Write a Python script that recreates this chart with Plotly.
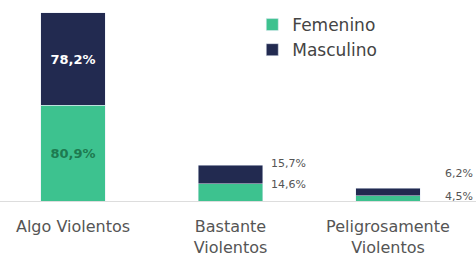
import plotly.graph_objects as go

categories = ["Algo Violentos", "Bastante<br>Violentos", "Peligrosamente<br>Violentos"]
femenino = [80.9, 14.6, 4.5]
masculino = [78.2, 15.7, 6.2]

GREEN = "#3dc28f"
NAVY = "#222a50"
FONT = "DejaVu Sans"

def fmt(v):
    return f"{v:.1f}%".replace(".", ",")

x = list(range(len(categories)))

fig = go.Figure()
fig.add_trace(go.Bar(
    x=x, y=femenino, name="Femenino", marker_color=GREEN, width=0.41,
    text=["<b>" + fmt(femenino[0]) + "</b>", "", ""], textposition="inside",
    insidetextanchor="middle", textangle=0,
    textfont=dict(color="#1d7a50", size=13, family=FONT), hoverinfo="skip",
))
fig.add_trace(go.Bar(
    x=x, y=masculino, name="Masculino", marker_color=NAVY, width=0.41,
    text=["<b>" + fmt(masculino[0]) + "</b>", "", ""], textposition="inside",
    insidetextanchor="middle", textangle=0,
    textfont=dict(color="white", size=13, family=FONT), hoverinfo="skip",
))

# outside labels for the small bars
x_shifts = [0, 39, 55]
male_yshift = [0, 2, 15]
for i in (1, 2):
    fig.add_annotation(x=i, y=femenino[i] + masculino[i], text=fmt(masculino[i]),
                       showarrow=False, xanchor="left", yanchor="middle",
                       xshift=x_shifts[i], yshift=male_yshift[i],
                       font=dict(size=11, color="#555555", family=FONT))
    fig.add_annotation(x=i, y=femenino[i], text=fmt(femenino[i]),
                       showarrow=False, xanchor="left", yanchor="middle",
                       xshift=x_shifts[i], yshift=-1,
                       font=dict(size=11, color="#555555", family=FONT))

fig.update_layout(
    width=476, height=260,
    margin=dict(l=0, r=0, t=0, b=59),
    barmode="stack",
    plot_bgcolor="white", paper_bgcolor="white",
    font=dict(family=FONT, color="#444444"),
    showlegend=True,
    legend=dict(x=0.53, y=0.965, xanchor="left", yanchor="top",
                traceorder="normal", font=dict(size=17, color="#444444"),
                itemwidth=30, tracegroupgap=0, bgcolor="rgba(0,0,0,0)"),
    xaxis=dict(tickmode="array", tickvals=x, ticktext=categories,
               range=[-0.4635, 2.559], showgrid=False, zeroline=False,
               showline=True, linecolor="#dddddd", linewidth=1,
               tickfont=dict(size=16, color="#555555", family=FONT), ticks="",
               ticklabelstandoff=11),
    yaxis=dict(range=[0, 170], visible=False, showgrid=False, zeroline=False),
)

fig.write_html("out.html", config={"displayModeBar": False},
               post_script="document.body.style.margin='0';")
